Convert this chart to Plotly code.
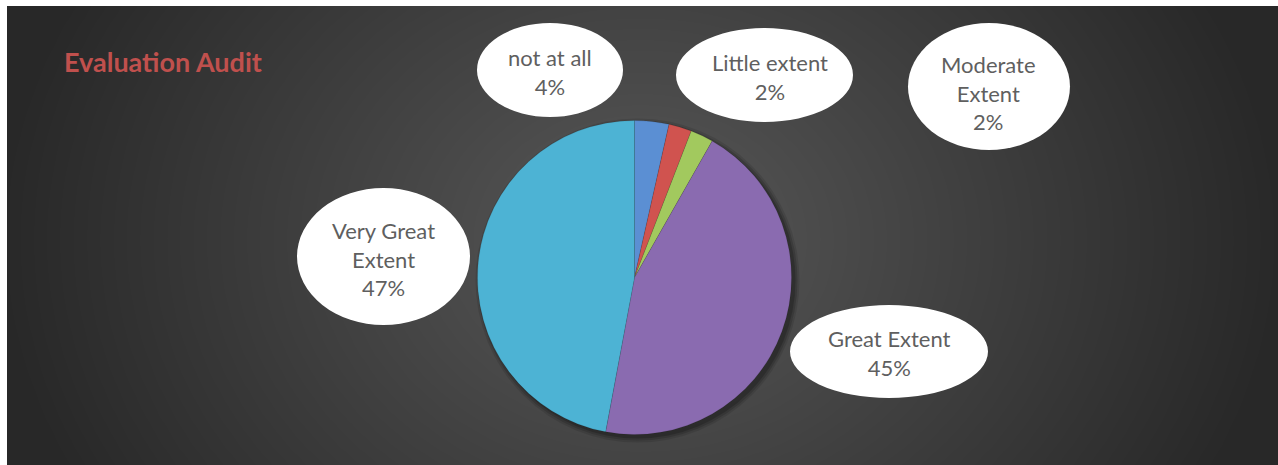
import numpy as np
import plotly.graph_objects as go

# ---------------- data ----------------
categories = ["not at all", "Little extent", "Moderate Extent", "Great Extent", "Very Great Extent"]
label_lines = ["not at all", "Little extent", "Moderate<br>Extent", "Great Extent", "Very Great<br>Extent"]
counts = [3, 2, 2, 38, 40]
title_text = "Evaluation Audit"

# ---------------- style / layout ----------------
slice_colors = ["#5B8FD3", "#D0534F", "#A2C95E", "#8A6BB0", "#4DB3D4"]
W, H = 1278, 465          # page size
L, T = 7, 6               # white margins left / top
# callout ellipses (pixel boxes x0, x1, y0, y1) and text centres (x, y)
callout_boxes = [(477, 623, 23, 117), (676, 853, 28, 122), (908, 1070, 23, 150),
                 (790, 988, 305, 398), (297, 470, 188, 325)]
callout_text = [(550, 72), (770, 77), (988, 93), (889, 353), (383, 259)]
pie_cx, pie_cy, pie_r = 634.5, 277.5, 157

def fx(px):
    return (px - L) / (W - L)

def fy(py):
    return (H - py) / (H - T)

fig = go.Figure()

# background radial gradient
gx = np.linspace(L, W, 200)
gy = np.linspace(T, H, 80)
X, Y = np.meshgrid(gx, gy)
d = np.sqrt(((X - 640) / 640) ** 2 + ((Y - 240) / 520) ** 2)
z = np.clip(1 - d, 0, 1)
fig.add_trace(go.Heatmap(x=gx, y=gy, z=z, zmin=0, zmax=1, showscale=False,
                         colorscale=[[0, "#282828"], [1, "#585858"]],
                         zsmooth="best", hoverinfo="skip"))

# soft pie shadow (a few layered discs)
for grow, alpha in [(5, 0.10), (3, 0.14), (1, 0.18)]:
    off = 3
    fig.add_trace(go.Pie(values=[1], labels=["shadow"], sort=False,
                         marker=dict(colors=[f"rgba(0,0,0,{alpha})"], line=dict(width=0)),
                         textinfo="none", hoverinfo="skip", showlegend=False,
                         domain=dict(x=[fx(pie_cx - pie_r - grow + off), fx(pie_cx + pie_r + grow + off)],
                                     y=[fy(pie_cy + pie_r + grow + off), fy(pie_cy - pie_r - grow + off)])))

# main pie
fig.add_trace(go.Pie(values=counts, labels=categories, sort=False,
                     direction="clockwise", rotation=0,
                     marker=dict(colors=slice_colors, line=dict(width=0.6, color="rgba(0,0,0,0.15)")),
                     textinfo="none", showlegend=False,
                     domain=dict(x=[fx(pie_cx - pie_r), fx(pie_cx + pie_r)],
                                 y=[fy(pie_cy + pie_r), fy(pie_cy - pie_r)])))

total = sum(counts)
shapes = []
annotations = []
for lab, v, box, tc in zip(label_lines, counts, callout_boxes, callout_text):
    x0, x1, y0, y1 = box
    shapes.append(dict(type="circle", xref="x", yref="y", x0=x0, x1=x1, y0=y0, y1=y1,
                       fillcolor="white", line=dict(width=0), layer="above"))
    pct = round(v / total * 100)
    annotations.append(dict(xref="x", yref="y", x=tc[0], y=tc[1], showarrow=False,
                            text=f"{lab}<br>{pct}%", align="center",
                            font=dict(family="Lato", size=22, color="#5F5F5F")))

annotations.append(dict(xref="x", yref="y", x=62, y=61, xanchor="left", yanchor="middle",
                        showarrow=False, text=f"<b>{title_text}</b>",
                        font=dict(family="Lato", size=27, color="#C0504D")))

fig.update_layout(
    width=W, height=H, autosize=False,
    margin=dict(l=L, r=0, t=T, b=0, pad=0),
    paper_bgcolor="white", plot_bgcolor="#333333",
    xaxis=dict(range=[L, W], visible=False, fixedrange=True),
    yaxis=dict(range=[H, T], visible=False, fixedrange=True),
    shapes=shapes, annotations=annotations, showlegend=False,
)

fig.write_html("out.html")
